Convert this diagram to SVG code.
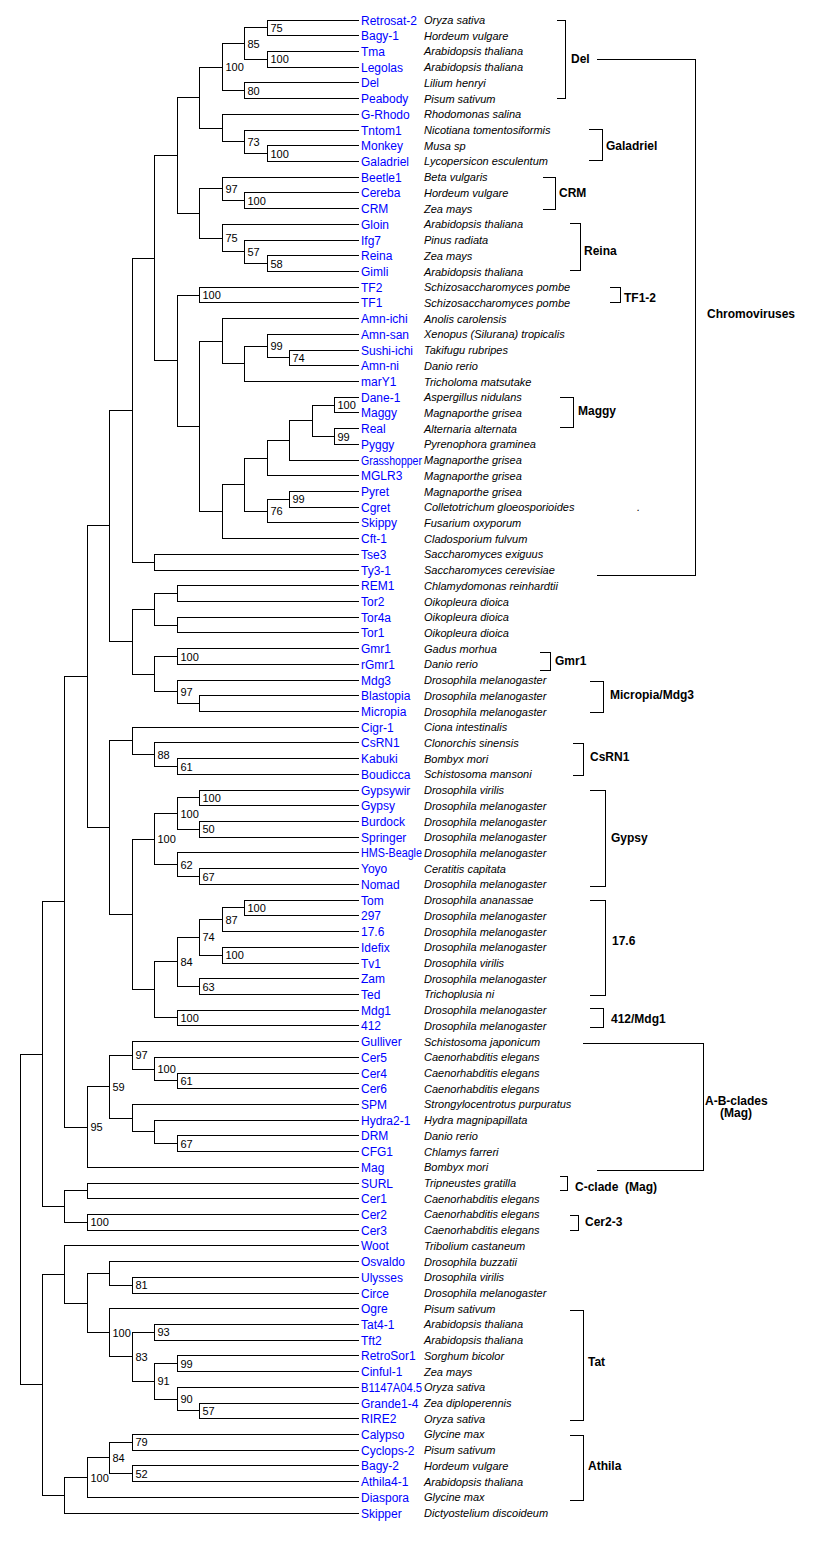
<svg xmlns="http://www.w3.org/2000/svg" width="824" height="1541" viewBox="0 0 824 1541">
<style>
.br{fill:none;stroke:#000;stroke-width:1;shape-rendering:crispEdges;stroke-linecap:square}
.n{font-family:"Liberation Sans",Arial,sans-serif;font-size:12px;fill:#0000ff}
.s{font-family:"Liberation Sans",Arial,sans-serif;font-size:11px;font-style:italic;fill:#000}
.bs{font-family:"Liberation Sans",Arial,sans-serif;font-size:11px;fill:#000}
.cl{font-family:"Liberation Sans",Arial,sans-serif;font-size:12px;font-weight:bold;fill:#000}
</style>
<rect width="824" height="1541" fill="#fff"/>
<g id="connectors" class="br">
<path d="M267.5,20H358 M267.5,35.7H358 M267.5,51.4H358 M267.5,67.1H358 M244.5,82.9H358 M244.5,98.6H358 M222.5,114.3H358 M244.5,130H358 M267.5,145.7H358 M267.5,161.4H358 M222.5,177.2H358 M244.5,192.9H358 M244.5,208.6H358 M222.5,224.3H358 M244.5,240H358 M267.5,255.7H358 M267.5,271.5H358 M199.5,287.2H358 M199.5,302.9H358 M222.5,318.6H358 M267.5,334.3H358 M289.5,350H358 M289.5,365.8H358 M244.5,381.5H358 M334.5,397.2H358 M334.5,412.9H358 M334.5,428.6H358 M334.5,444.3H358 M289.5,460H358 M267.5,475.8H358 M289.5,491.5H358 M289.5,507.2H358 M267.5,522.9H358 M222.5,538.6H358 M154.5,554.3H358 M154.5,570.1H358 M177.5,585.8H358 M177.5,601.5H358 M177.5,617.2H358 M177.5,632.9H358 M177.5,648.6H358 M177.5,664.4H358 M177.5,680.1H358 M199.5,695.8H358 M199.5,711.5H358 M132.5,727.2H358 M154.5,742.9H358 M177.5,758.7H358 M177.5,774.4H358 M199.5,790.1H358 M199.5,805.8H358 M199.5,821.5H358 M199.5,837.2H358 M177.5,852.9H358 M199.5,868.7H358 M199.5,884.4H358 M244.5,900.1H358 M244.5,915.8H358 M222.5,931.5H358 M222.5,947.2H358 M222.5,963H358 M199.5,978.7H358 M199.5,994.4H358 M177.5,1010.1H358 M177.5,1025.8H358 M132.5,1041.5H358 M154.5,1057.3H358 M177.5,1073H358 M177.5,1088.7H358 M132.5,1104.4H358 M154.5,1120.1H358 M177.5,1135.8H358 M177.5,1151.6H358 M87.5,1167.3H358 M87.5,1183H358 M87.5,1198.7H358 M87.5,1214.4H358 M87.5,1230.1H358 M64.5,1245.8H358 M109.5,1261.6H358 M132.5,1277.3H358 M132.5,1293H358 M109.5,1308.7H358 M154.5,1324.4H358 M154.5,1340.1H358 M177.5,1355.8H358 M177.5,1371.6H358 M177.5,1387.3H358 M199.5,1403H358 M199.5,1418.7H358 M132.5,1434.4H358 M132.5,1450.1H358 M132.5,1465.8H358 M132.5,1481.6H358 M87.5,1497.3H358 M64.5,1513H358"/>
<path d="M267.5,20V35.7 M267.5,51.4V67.1 M244.5,27.85V59.25 M244.5,82.9V98.6 M222.5,43.55V90.75 M267.5,145.7V161.4 M244.5,130V153.55 M222.5,114.3V141.78 M199.5,67.15V128.04 M244.5,192.9V208.6 M222.5,177.2V200.75 M267.5,255.7V271.5 M244.5,240V263.6 M222.5,224.3V251.8 M199.5,188.98V238.05 M177.5,97.6V213.5 M199.5,287.2V302.9 M289.5,350V365.8 M267.5,334.3V357.9 M244.5,346.1V381.5 M222.5,318.6V363.8 M334.5,397.2V412.9 M334.5,428.6V444.3 M312.5,405.05V436.45 M289.5,420.75V460 M267.5,440.38V475.8 M289.5,491.5V507.2 M267.5,499.35V522.9 M244.5,458.09V511.13 M222.5,484.61V538.6 M199.5,341.2V511.6 M177.5,295.05V426.4 M154.5,155.55V360.73 M154.5,554.3V570.1 M132.5,258.14V562.2 M177.5,585.8V601.5 M177.5,617.2V632.9 M154.5,593.65V625.05 M177.5,648.6V664.4 M199.5,695.8V711.5 M177.5,680.1V703.65 M154.5,656.5V691.88 M132.5,609.35V674.19 M109.5,410.17V641.77 M177.5,758.7V774.4 M154.5,742.9V766.55 M132.5,727.2V754.73 M199.5,790.1V805.8 M199.5,821.5V837.2 M177.5,797.95V829.35 M199.5,868.7V884.4 M177.5,852.9V876.55 M154.5,813.65V864.73 M244.5,900.1V915.8 M222.5,907.95V931.5 M222.5,947.2V962.96 M199.5,919.73V955.08 M199.5,978.7V994.4 M177.5,937.4V986.55 M177.5,1010.1V1025.8 M154.5,961.98V1017.95 M132.5,839.19V989.96 M109.5,740.96V914.58 M87.5,525.97V827.77 M177.5,1073V1088.7 M154.5,1057.3V1080.85 M132.5,1041.5V1069.08 M177.5,1135.8V1151.6 M154.5,1120.1V1143.7 M132.5,1104.4V1131.9 M109.5,1055.29V1118.15 M87.5,1086.72V1167.3 M64.5,676.87V1127.01 M87.5,1183V1198.7 M87.5,1214.4V1230.1 M64.5,1190.85V1222.25 M42.5,901.94V1206.55 M132.5,1277.3V1293 M109.5,1261.6V1285.15 M154.5,1324.4V1340.1 M177.5,1355.8V1371.6 M199.5,1403V1418.7 M177.5,1387.3V1410.85 M154.5,1363.7V1399.08 M132.5,1332.25V1381.39 M109.5,1308.7V1356.82 M87.5,1273.38V1332.76 M64.5,1245.8V1303.07 M132.5,1434.4V1450.1 M132.5,1465.8V1481.6 M109.5,1442.25V1473.7 M87.5,1457.98V1497.3 M64.5,1477.64V1513 M42.5,1274.44V1495.32 M20.5,1054.25V1384.88"/>
<path d="M244.5,27.85H267.5 M244.5,59.25H267.5 M222.5,43.55H244.5 M222.5,90.75H244.5 M199.5,67.15H222.5 M244.5,153.55H267.5 M222.5,141.78H244.5 M199.5,128.04H222.5 M177.5,97.6H199.5 M222.5,200.75H244.5 M199.5,188.98H222.5 M244.5,263.6H267.5 M222.5,251.8H244.5 M199.5,238.05H222.5 M177.5,213.5H199.5 M154.5,155.55H177.5 M177.5,295.05H199.5 M267.5,357.9H289.5 M244.5,346.1H267.5 M222.5,363.8H244.5 M199.5,341.2H222.5 M312.5,405.05H334.5 M312.5,436.45H334.5 M289.5,420.75H312.5 M267.5,440.38H289.5 M244.5,458.09H267.5 M267.5,499.35H289.5 M244.5,511.13H267.5 M222.5,484.61H244.5 M199.5,511.6H222.5 M177.5,426.4H199.5 M154.5,360.73H177.5 M132.5,258.14H154.5 M132.5,562.2H154.5 M109.5,410.17H132.5 M154.5,593.65H177.5 M154.5,625.05H177.5 M132.5,609.35H154.5 M154.5,656.5H177.5 M177.5,703.65H199.5 M154.5,691.88H177.5 M132.5,674.19H154.5 M109.5,641.77H132.5 M87.5,525.97H109.5 M154.5,766.55H177.5 M132.5,754.73H154.5 M109.5,740.96H132.5 M177.5,797.95H199.5 M177.5,829.35H199.5 M154.5,813.65H177.5 M177.5,876.55H199.5 M154.5,864.73H177.5 M132.5,839.19H154.5 M222.5,907.95H244.5 M199.5,919.73H222.5 M199.5,955.08H222.5 M177.5,937.4H199.5 M177.5,986.55H199.5 M154.5,961.98H177.5 M154.5,1017.95H177.5 M132.5,989.96H154.5 M109.5,914.58H132.5 M87.5,827.77H109.5 M64.5,676.87H87.5 M154.5,1080.85H177.5 M132.5,1069.08H154.5 M109.5,1055.29H132.5 M154.5,1143.7H177.5 M132.5,1131.9H154.5 M109.5,1118.15H132.5 M87.5,1086.72H109.5 M64.5,1127.01H87.5 M42.5,901.94H64.5 M64.5,1190.85H87.5 M64.5,1222.25H87.5 M42.5,1206.55H64.5 M20.5,1054.25H42.5 M109.5,1285.15H132.5 M87.5,1273.38H109.5 M132.5,1332.25H154.5 M154.5,1363.7H177.5 M177.5,1410.85H199.5 M154.5,1399.08H177.5 M132.5,1381.39H154.5 M109.5,1356.82H132.5 M87.5,1332.76H109.5 M64.5,1303.07H87.5 M42.5,1274.44H64.5 M109.5,1442.25H132.5 M109.5,1473.7H132.5 M87.5,1457.98H109.5 M64.5,1477.64H87.5 M42.5,1495.32H64.5 M20.5,1384.88H42.5"/>
</g>
<g id="bootstrap" class="bs">
<text x="270.5" y="31.9">75</text><text x="270.5" y="63.3">100</text><text x="247.5" y="47.6">85</text><text x="247.5" y="94.8">80</text><text x="225.5" y="71.2">100</text>
<text x="247.5" y="145.8">73</text><text x="270.5" y="157.6">100</text><text x="225.5" y="193">97</text><text x="247.5" y="204.8">100</text><text x="225.5" y="242.1">75</text>
<text x="247.5" y="255.8">57</text><text x="270.5" y="267.6">58</text><text x="202.5" y="299.1">100</text><text x="270.5" y="350.1">99</text><text x="292.5" y="361.9">74</text>
<text x="337.5" y="409.1">100</text><text x="337.5" y="440.5">99</text><text x="292.5" y="503.4">99</text><text x="270.5" y="515.1">76</text><text x="180.5" y="660.5">100</text>
<text x="180.5" y="695.9">97</text><text x="157.5" y="758.7">88</text><text x="180.5" y="770.6">61</text><text x="202.5" y="802">100</text><text x="180.5" y="817.7">100</text>
<text x="202.5" y="833.4">50</text><text x="157.5" y="843.2">100</text><text x="180.5" y="868.7">62</text><text x="202.5" y="880.6">67</text><text x="247.5" y="912">100</text>
<text x="225.5" y="923.7">87</text><text x="202.5" y="941.4">74</text><text x="225.5" y="959.1">100</text><text x="180.5" y="966">84</text><text x="202.5" y="990.6">63</text>
<text x="180.5" y="1022">100</text><text x="135.5" y="1059.3">97</text><text x="157.5" y="1073.1">100</text><text x="180.5" y="1084.9">61</text><text x="112.5" y="1090.7">59</text>
<text x="180.5" y="1147.7">67</text><text x="90.5" y="1131">95</text><text x="90.5" y="1226.3">100</text><text x="135.5" y="1289.2">81</text><text x="112.5" y="1336.8">100</text>
<text x="157.5" y="1336.3">93</text><text x="135.5" y="1360.8">83</text><text x="180.5" y="1367.7">99</text><text x="157.5" y="1385.4">91</text><text x="180.5" y="1403.1">90</text>
<text x="202.5" y="1414.9">57</text><text x="135.5" y="1446.3">79</text><text x="112.5" y="1462">84</text><text x="135.5" y="1477.7">52</text><text x="90.5" y="1481.6">100</text>
</g>
<g id="leaves">
<g id="leaf-Retrosat-2" transform="translate(0,20)"><text class="n" x="361" y="4.5">Retrosat-2</text><text class="s" x="424" y="4">Oryza sativa</text></g>
<g id="leaf-Bagy-1" transform="translate(0,35.7)"><text class="n" x="361" y="4.5">Bagy-1</text><text class="s" x="424" y="4">Hordeum vulgare</text></g>
<g id="leaf-Tma" transform="translate(0,51.4)"><text class="n" x="361" y="4.5">Tma</text><text class="s" x="424" y="4">Arabidopsis thaliana</text></g>
<g id="leaf-Legolas" transform="translate(0,67.1)"><text class="n" x="361" y="4.5">Legolas</text><text class="s" x="424" y="4">Arabidopsis thaliana</text></g>
<g id="leaf-Del" transform="translate(0,82.9)"><text class="n" x="361" y="4.5">Del</text><text class="s" x="424" y="4">Lilium henryi</text></g>
<g id="leaf-Peabody" transform="translate(0,98.6)"><text class="n" x="361" y="4.5">Peabody</text><text class="s" x="424" y="4">Pisum sativum</text></g>
<g id="leaf-G-Rhodo" transform="translate(0,114.3)"><text class="n" x="361" y="4.5">G-Rhodo</text><text class="s" x="424" y="4">Rhodomonas salina</text></g>
<g id="leaf-Tntom1" transform="translate(0,130)"><text class="n" x="361" y="4.5">Tntom1</text><text class="s" x="424" y="4">Nicotiana tomentosiformis</text></g>
<g id="leaf-Monkey" transform="translate(0,145.7)"><text class="n" x="361" y="4.5">Monkey</text><text class="s" x="424" y="4">Musa sp</text></g>
<g id="leaf-Galadriel" transform="translate(0,161.4)"><text class="n" x="361" y="4.5">Galadriel</text><text class="s" x="424" y="4">Lycopersicon esculentum</text></g>
<g id="leaf-Beetle1" transform="translate(0,177.2)"><text class="n" x="361" y="4.5">Beetle1</text><text class="s" x="424" y="4">Beta vulgaris</text></g>
<g id="leaf-Cereba" transform="translate(0,192.9)"><text class="n" x="361" y="4.5">Cereba</text><text class="s" x="424" y="4">Hordeum vulgare</text></g>
<g id="leaf-CRM" transform="translate(0,208.6)"><text class="n" x="361" y="4.5">CRM</text><text class="s" x="424" y="4">Zea mays</text></g>
<g id="leaf-Gloin" transform="translate(0,224.3)"><text class="n" x="361" y="4.5">Gloin</text><text class="s" x="424" y="4">Arabidopsis thaliana</text></g>
<g id="leaf-Ifg7" transform="translate(0,240)"><text class="n" x="361" y="4.5">Ifg7</text><text class="s" x="424" y="4">Pinus radiata</text></g>
<g id="leaf-Reina" transform="translate(0,255.7)"><text class="n" x="361" y="4.5">Reina</text><text class="s" x="424" y="4">Zea mays</text></g>
<g id="leaf-Gimli" transform="translate(0,271.5)"><text class="n" x="361" y="4.5">Gimli</text><text class="s" x="424" y="4">Arabidopsis thaliana</text></g>
<g id="leaf-TF2" transform="translate(0,287.2)"><text class="n" x="361" y="4.5">TF2</text><text class="s" x="424" y="4">Schizosaccharomyces pombe</text></g>
<g id="leaf-TF1" transform="translate(0,302.9)"><text class="n" x="361" y="4.5">TF1</text><text class="s" x="424" y="4">Schizosaccharomyces pombe</text></g>
<g id="leaf-Amn-ichi" transform="translate(0,318.6)"><text class="n" x="361" y="4.5">Amn-ichi</text><text class="s" x="424" y="4">Anolis carolensis</text></g>
<g id="leaf-Amn-san" transform="translate(0,334.3)"><text class="n" x="361" y="4.5">Amn-san</text><text class="s" x="424" y="4">Xenopus (Silurana) tropicalis</text></g>
<g id="leaf-Sushi-ichi" transform="translate(0,350)"><text class="n" x="361" y="4.5">Sushi-ichi</text><text class="s" x="424" y="4">Takifugu rubripes</text></g>
<g id="leaf-Amn-ni" transform="translate(0,365.8)"><text class="n" x="361" y="4.5">Amn-ni</text><text class="s" x="424" y="4">Danio rerio</text></g>
<g id="leaf-marY1" transform="translate(0,381.5)"><text class="n" x="361" y="4.5">marY1</text><text class="s" x="424" y="4">Tricholoma matsutake</text></g>
<g id="leaf-Dane-1" transform="translate(0,397.2)"><text class="n" x="361" y="4.5">Dane-1</text><text class="s" x="424" y="4">Aspergillus nidulans</text></g>
<g id="leaf-Maggy" transform="translate(0,412.9)"><text class="n" x="361" y="4.5">Maggy</text><text class="s" x="424" y="4">Magnaporthe grisea</text></g>
<g id="leaf-Real" transform="translate(0,428.6)"><text class="n" x="361" y="4.5">Real</text><text class="s" x="424" y="4">Alternaria alternata</text></g>
<g id="leaf-Pyggy" transform="translate(0,444.3)"><text class="n" x="361" y="4.5">Pyggy</text><text class="s" x="424" y="4">Pyrenophora graminea</text></g>
<g id="leaf-Grasshopper" transform="translate(0,460)"><text class="n" x="361" y="4.5" textLength="61" lengthAdjust="spacingAndGlyphs">Grasshopper</text><text class="s" x="424" y="4">Magnaporthe grisea</text></g>
<g id="leaf-MGLR3" transform="translate(0,475.8)"><text class="n" x="361" y="4.5">MGLR3</text><text class="s" x="424" y="4">Magnaporthe grisea</text></g>
<g id="leaf-Pyret" transform="translate(0,491.5)"><text class="n" x="361" y="4.5">Pyret</text><text class="s" x="424" y="4">Magnaporthe grisea</text></g>
<g id="leaf-Cgret" transform="translate(0,507.2)"><text class="n" x="361" y="4.5">Cgret</text><text class="s" x="424" y="4">Colletotrichum gloeosporioides</text><text class="s" x="637" y="4">.</text></g>
<g id="leaf-Skippy" transform="translate(0,522.9)"><text class="n" x="361" y="4.5">Skippy</text><text class="s" x="424" y="4">Fusarium oxyporum</text></g>
<g id="leaf-Cft-1" transform="translate(0,538.6)"><text class="n" x="361" y="4.5">Cft-1</text><text class="s" x="424" y="4">Cladosporium fulvum</text></g>
<g id="leaf-Tse3" transform="translate(0,554.3)"><text class="n" x="361" y="4.5">Tse3</text><text class="s" x="424" y="4">Saccharomyces exiguus</text></g>
<g id="leaf-Ty3-1" transform="translate(0,570.1)"><text class="n" x="361" y="4.5">Ty3-1</text><text class="s" x="424" y="4">Saccharomyces cerevisiae</text></g>
<g id="leaf-REM1" transform="translate(0,585.8)"><text class="n" x="361" y="4.5">REM1</text><text class="s" x="424" y="4">Chlamydomonas reinhardtii</text></g>
<g id="leaf-Tor2" transform="translate(0,601.5)"><text class="n" x="361" y="4.5">Tor2</text><text class="s" x="424" y="4">Oikopleura dioica</text></g>
<g id="leaf-Tor4a" transform="translate(0,617.2)"><text class="n" x="361" y="4.5">Tor4a</text><text class="s" x="424" y="4">Oikopleura dioica</text></g>
<g id="leaf-Tor1" transform="translate(0,632.9)"><text class="n" x="361" y="4.5">Tor1</text><text class="s" x="424" y="4">Oikopleura dioica</text></g>
<g id="leaf-Gmr1" transform="translate(0,648.6)"><text class="n" x="361" y="4.5">Gmr1</text><text class="s" x="424" y="4">Gadus morhua</text></g>
<g id="leaf-rGmr1" transform="translate(0,664.4)"><text class="n" x="361" y="4.5">rGmr1</text><text class="s" x="424" y="4">Danio rerio</text></g>
<g id="leaf-Mdg3" transform="translate(0,680.1)"><text class="n" x="361" y="4.5">Mdg3</text><text class="s" x="424" y="4">Drosophila melanogaster</text></g>
<g id="leaf-Blastopia" transform="translate(0,695.8)"><text class="n" x="361" y="4.5">Blastopia</text><text class="s" x="424" y="4">Drosophila melanogaster</text></g>
<g id="leaf-Micropia" transform="translate(0,711.5)"><text class="n" x="361" y="4.5">Micropia</text><text class="s" x="424" y="4">Drosophila melanogaster</text></g>
<g id="leaf-Cigr-1" transform="translate(0,727.2)"><text class="n" x="361" y="4.5">Cigr-1</text><text class="s" x="424" y="4">Ciona intestinalis</text></g>
<g id="leaf-CsRN1" transform="translate(0,742.9)"><text class="n" x="361" y="4.5">CsRN1</text><text class="s" x="424" y="4">Clonorchis sinensis</text></g>
<g id="leaf-Kabuki" transform="translate(0,758.7)"><text class="n" x="361" y="4.5">Kabuki</text><text class="s" x="424" y="4">Bombyx mori</text></g>
<g id="leaf-Boudicca" transform="translate(0,774.4)"><text class="n" x="361" y="4.5">Boudicca</text><text class="s" x="424" y="4">Schistosoma mansoni</text></g>
<g id="leaf-Gypsywir" transform="translate(0,790.1)"><text class="n" x="361" y="4.5">Gypsywir</text><text class="s" x="424" y="4">Drosophila virilis</text></g>
<g id="leaf-Gypsy" transform="translate(0,805.8)"><text class="n" x="361" y="4.5">Gypsy</text><text class="s" x="424" y="4">Drosophila melanogaster</text></g>
<g id="leaf-Burdock" transform="translate(0,821.5)"><text class="n" x="361" y="4.5">Burdock</text><text class="s" x="424" y="4">Drosophila melanogaster</text></g>
<g id="leaf-Springer" transform="translate(0,837.2)"><text class="n" x="361" y="4.5">Springer</text><text class="s" x="424" y="4">Drosophila melanogaster</text></g>
<g id="leaf-HMS-Beagle" transform="translate(0,852.9)"><text class="n" x="361" y="4.5" textLength="61" lengthAdjust="spacingAndGlyphs">HMS-Beagle</text><text class="s" x="424" y="4">Drosophila melanogaster</text></g>
<g id="leaf-Yoyo" transform="translate(0,868.7)"><text class="n" x="361" y="4.5">Yoyo</text><text class="s" x="424" y="4">Ceratitis capitata</text></g>
<g id="leaf-Nomad" transform="translate(0,884.4)"><text class="n" x="361" y="4.5">Nomad</text><text class="s" x="424" y="4">Drosophila melanogaster</text></g>
<g id="leaf-Tom" transform="translate(0,900.1)"><text class="n" x="361" y="4.5">Tom</text><text class="s" x="424" y="4">Drosophila ananassae</text></g>
<g id="leaf-n297" transform="translate(0,915.8)"><text class="n" x="361" y="4.5">297</text><text class="s" x="424" y="4">Drosophila melanogaster</text></g>
<g id="leaf-n17.6" transform="translate(0,931.5)"><text class="n" x="361" y="4.5">17.6</text><text class="s" x="424" y="4">Drosophila melanogaster</text></g>
<g id="leaf-Idefix" transform="translate(0,947.2)"><text class="n" x="361" y="4.5">Idefix</text><text class="s" x="424" y="4">Drosophila melanogaster</text></g>
<g id="leaf-Tv1" transform="translate(0,963)"><text class="n" x="361" y="4.5">Tv1</text><text class="s" x="424" y="4">Drosophila virilis</text></g>
<g id="leaf-Zam" transform="translate(0,978.7)"><text class="n" x="361" y="4.5">Zam</text><text class="s" x="424" y="4">Drosophila melanogaster</text></g>
<g id="leaf-Ted" transform="translate(0,994.4)"><text class="n" x="361" y="4.5">Ted</text><text class="s" x="424" y="4">Trichoplusia ni</text></g>
<g id="leaf-Mdg1" transform="translate(0,1010.1)"><text class="n" x="361" y="4.5">Mdg1</text><text class="s" x="424" y="4">Drosophila melanogaster</text></g>
<g id="leaf-n412" transform="translate(0,1025.8)"><text class="n" x="361" y="4.5">412</text><text class="s" x="424" y="4">Drosophila melanogaster</text></g>
<g id="leaf-Gulliver" transform="translate(0,1041.5)"><text class="n" x="361" y="4.5">Gulliver</text><text class="s" x="424" y="4">Schistosoma japonicum</text></g>
<g id="leaf-Cer5" transform="translate(0,1057.3)"><text class="n" x="361" y="4.5">Cer5</text><text class="s" x="424" y="4">Caenorhabditis elegans</text></g>
<g id="leaf-Cer4" transform="translate(0,1073)"><text class="n" x="361" y="4.5">Cer4</text><text class="s" x="424" y="4">Caenorhabditis elegans</text></g>
<g id="leaf-Cer6" transform="translate(0,1088.7)"><text class="n" x="361" y="4.5">Cer6</text><text class="s" x="424" y="4">Caenorhabditis elegans</text></g>
<g id="leaf-SPM" transform="translate(0,1104.4)"><text class="n" x="361" y="4.5">SPM</text><text class="s" x="424" y="4">Strongylocentrotus purpuratus</text></g>
<g id="leaf-Hydra2-1" transform="translate(0,1120.1)"><text class="n" x="361" y="4.5">Hydra2-1</text><text class="s" x="424" y="4">Hydra magnipapillata</text></g>
<g id="leaf-DRM" transform="translate(0,1135.8)"><text class="n" x="361" y="4.5">DRM</text><text class="s" x="424" y="4">Danio rerio</text></g>
<g id="leaf-CFG1" transform="translate(0,1151.6)"><text class="n" x="361" y="4.5">CFG1</text><text class="s" x="424" y="4">Chlamys farreri</text></g>
<g id="leaf-Mag" transform="translate(0,1167.3)"><text class="n" x="361" y="4.5">Mag</text><text class="s" x="424" y="4">Bombyx mori</text></g>
<g id="leaf-SURL" transform="translate(0,1183)"><text class="n" x="361" y="4.5">SURL</text><text class="s" x="424" y="4">Tripneustes gratilla</text></g>
<g id="leaf-Cer1" transform="translate(0,1198.7)"><text class="n" x="361" y="4.5">Cer1</text><text class="s" x="424" y="4">Caenorhabditis elegans</text></g>
<g id="leaf-Cer2" transform="translate(0,1214.4)"><text class="n" x="361" y="4.5">Cer2</text><text class="s" x="424" y="4">Caenorhabditis elegans</text></g>
<g id="leaf-Cer3" transform="translate(0,1230.1)"><text class="n" x="361" y="4.5">Cer3</text><text class="s" x="424" y="4">Caenorhabditis elegans</text></g>
<g id="leaf-Woot" transform="translate(0,1245.8)"><text class="n" x="361" y="4.5">Woot</text><text class="s" x="424" y="4">Tribolium castaneum</text></g>
<g id="leaf-Osvaldo" transform="translate(0,1261.6)"><text class="n" x="361" y="4.5">Osvaldo</text><text class="s" x="424" y="4">Drosophila buzzatii</text></g>
<g id="leaf-Ulysses" transform="translate(0,1277.3)"><text class="n" x="361" y="4.5">Ulysses</text><text class="s" x="424" y="4">Drosophila virilis</text></g>
<g id="leaf-Circe" transform="translate(0,1293)"><text class="n" x="361" y="4.5">Circe</text><text class="s" x="424" y="4">Drosophila melanogaster</text></g>
<g id="leaf-Ogre" transform="translate(0,1308.7)"><text class="n" x="361" y="4.5">Ogre</text><text class="s" x="424" y="4">Pisum sativum</text></g>
<g id="leaf-Tat4-1" transform="translate(0,1324.4)"><text class="n" x="361" y="4.5">Tat4-1</text><text class="s" x="424" y="4">Arabidopsis thaliana</text></g>
<g id="leaf-Tft2" transform="translate(0,1340.1)"><text class="n" x="361" y="4.5">Tft2</text><text class="s" x="424" y="4">Arabidopsis thaliana</text></g>
<g id="leaf-RetroSor1" transform="translate(0,1355.8)"><text class="n" x="361" y="4.5">RetroSor1</text><text class="s" x="424" y="4">Sorghum bicolor</text></g>
<g id="leaf-Cinful-1" transform="translate(0,1371.6)"><text class="n" x="361" y="4.5">Cinful-1</text><text class="s" x="424" y="4">Zea mays</text></g>
<g id="leaf-B1147A04.5" transform="translate(0,1387.3)"><text class="n" x="361" y="4.5" textLength="61" lengthAdjust="spacingAndGlyphs">B1147A04.5</text><text class="s" x="424" y="4">Oryza sativa</text></g>
<g id="leaf-Grande1-4" transform="translate(0,1403)"><text class="n" x="361" y="4.5">Grande1-4</text><text class="s" x="424" y="4">Zea diploperennis</text></g>
<g id="leaf-RIRE2" transform="translate(0,1418.7)"><text class="n" x="361" y="4.5">RIRE2</text><text class="s" x="424" y="4">Oryza sativa</text></g>
<g id="leaf-Calypso" transform="translate(0,1434.4)"><text class="n" x="361" y="4.5">Calypso</text><text class="s" x="424" y="4">Glycine max</text></g>
<g id="leaf-Cyclops-2" transform="translate(0,1450.1)"><text class="n" x="361" y="4.5">Cyclops-2</text><text class="s" x="424" y="4">Pisum sativum</text></g>
<g id="leaf-Bagy-2" transform="translate(0,1465.8)"><text class="n" x="361" y="4.5">Bagy-2</text><text class="s" x="424" y="4">Hordeum vulgare</text></g>
<g id="leaf-Athila4-1" transform="translate(0,1481.6)"><text class="n" x="361" y="4.5">Athila4-1</text><text class="s" x="424" y="4">Arabidopsis thaliana</text></g>
<g id="leaf-Diaspora" transform="translate(0,1497.3)"><text class="n" x="361" y="4.5">Diaspora</text><text class="s" x="424" y="4">Glycine max</text></g>
<g id="leaf-Skipper" transform="translate(0,1513)"><text class="n" x="361" y="4.5">Skipper</text><text class="s" x="424" y="4">Dictyostelium discoideum</text></g>
</g>
<g id="clades">
<g id="clade-Del"><path class="br" d="M557,20.5H565.5V98.5H557"/><text class="cl" x="571" y="63">Del</text></g>
<g id="clade-Chromoviruses"><path class="br" d="M597,59.5H695.5V575.5H597"/><text class="cl" x="707" y="318">Chromoviruses</text></g>
<g id="clade-Galadriel"><path class="br" d="M589,129.5H602.5V160.5H589"/><text class="cl" x="606" y="150">Galadriel</text></g>
<g id="clade-CRM"><path class="br" d="M543,177.5H555.5V209.5H543"/><text class="cl" x="559" y="197">CRM</text></g>
<g id="clade-Reina"><path class="br" d="M570,223.5H580.5V270.5H570"/><text class="cl" x="584" y="255">Reina</text></g>
<g id="clade-TF1-2"><path class="br" d="M610,287.5H620.5V302.5H610"/><text class="cl" x="624" y="302">TF1-2</text></g>
<g id="clade-Maggy"><path class="br" d="M560,397.5H573.5V427.5H560"/><text class="cl" x="578" y="415">Maggy</text></g>
<g id="clade-Gmr1"><path class="br" d="M540,652.5H550.5V670.5H540"/><text class="cl" x="555" y="665">Gmr1</text></g>
<g id="clade-Micropia-Mdg3"><path class="br" d="M590,681.5H603.5V712.5H590"/><text class="cl" x="610" y="699">Micropia/Mdg3</text></g>
<g id="clade-CsRN1"><path class="br" d="M573,743.5H583.5V775.5H573"/><text class="cl" x="590" y="761">CsRN1</text></g>
<g id="clade-Gypsy"><path class="br" d="M590,790.5H605.5V886.5H590"/><text class="cl" x="611" y="842">Gypsy</text></g>
<g id="clade-17.6"><path class="br" d="M590,900.5H605.5V995.5H590"/><text class="cl" x="612" y="945">17.6</text></g>
<g id="clade-412-Mdg1"><path class="br" d="M590,1008.5H603.5V1027.5H590"/><text class="cl" x="611" y="1023">412/Mdg1</text></g>
<g id="clade-A-B"><path class="br" d="M583,1043.5H703.5V1170.5H597"/><text class="cl" x="705" y="1105">A-B-clades</text><text class="cl" x="720" y="1117">(Mag)</text></g>
<g id="clade-C"><path class="br" d="M560,1176.5H567.5V1190.5H560"/><text class="cl" x="575" y="1191" xml:space="preserve">C-clade  (Mag)</text></g>
<g id="clade-Cer2-3"><path class="br" d="M570,1215.5H578.5V1230.5H570"/><text class="cl" x="585" y="1226">Cer2-3</text></g>
<g id="clade-Tat"><path class="br" d="M570,1310.5H583.5V1420.5H570"/><text class="cl" x="588" y="1366">Tat</text></g>
<g id="clade-Athila"><path class="br" d="M570,1435.5H583.5V1500.5H570"/><text class="cl" x="588" y="1470">Athila</text></g>
</g>
</svg>
